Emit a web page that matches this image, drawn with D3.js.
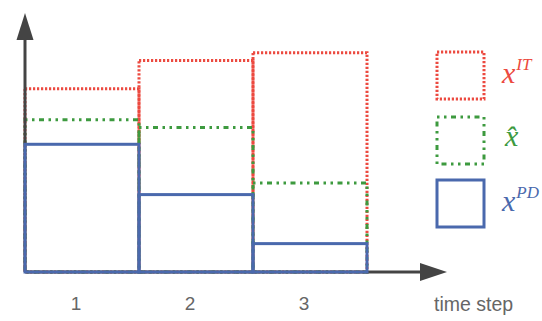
<!DOCTYPE html>
<html>
<head>
<meta charset="utf-8">
<script src="https://cdn.jsdelivr.net/npm/d3@7"></script>
<style>
  body { margin: 0; background: #fff; }
  svg { display: block; }
</style>
</head>
<body>
<script>
const width = 542
const height = 321

// time steps and the three series (arbitrary units, 0..10 on the y axis)
const steps = ['1', '2', '3']
const xIT = [7.1, 8.2, 8.5]
const xHat = [5.9, 5.6, 3.45]
const xPD = [4.95, 3.0, 1.1]

const seriesNames = ['IT', 'hat', 'PD']
const seriesColors = ['#ec4a40', '#3d9a3f', '#4a69ad']

const svg = d3.select('body').append('svg')
  .attr('width', width)
  .attr('height', height)

const x = d3.scaleBand()
  .domain(steps)
  .range([25, 367])
  .padding(0)

const y = d3.scaleLinear()
  .domain([0, 10])
  .range([272, 14])

const axisColor = '#444'
const redDash = '2.2,1.8'
const greenDash = '2.5,4.5,2.5,4.5,5,4.5'

function bars(values, color, dash, sw) {
  svg.append('g')
    .selectAll('rect')
    .data(values)
    .enter().append('rect')
    .attr('x', (d, i) => x(steps[i]))
    .attr('y', d => y(d))
    .attr('width', x.bandwidth())
    .attr('height', d => y(0) - y(d))
    .attr('fill', 'none')
    .attr('stroke', color)
    .attr('stroke-width', sw)
    .attr('stroke-dasharray', dash)
}

bars(xIT, seriesColors[0], redDash, 3)
bars(xHat, seriesColors[1], greenDash, 3)

// axes with arrow heads
svg.append('line')
  .attr('x1', 25).attr('y1', y(0))
  .attr('x2', 422).attr('y2', y(0))
  .attr('stroke', axisColor)
  .attr('stroke-width', 3)
svg.append('path')
  .attr('d', `M420,${y(0) - 9}L447,${y(0)}L420,${y(0) + 9}Z`)
  .attr('fill', axisColor)

svg.append('line')
  .attr('x1', 25).attr('y1', y(0))
  .attr('x2', 25).attr('y2', 38)
  .attr('stroke', axisColor)
  .attr('stroke-width', 3)
svg.append('path')
  .attr('d', 'M16.5,40L25,13L33.5,40Z')
  .attr('fill', axisColor)

bars(xPD, seriesColors[2], null, 3)

// tick labels
const xAxis = svg.append('g')
  .attr('transform', `translate(-6,${y(0)})`)
  .call(d3.axisBottom(x).tickSize(0).tickPadding(25))
xAxis.select('.domain').remove()
xAxis.selectAll('text')
  .attr('font-family', 'Liberation Sans, Arial, sans-serif')
  .attr('font-size', 19)
  .attr('fill', '#666')

svg.append('text')
  .attr('x', 434)
  .attr('y', 311)
  .attr('font-family', 'Liberation Sans, Arial, sans-serif')
  .attr('font-size', 19.5)
  .attr('fill', '#666')
  .text('time step')

// legend
const legendTop = [52, 117, 180]
const legendDash = [redDash, greenDash, null]
seriesNames.forEach((name, i) => {
  svg.append('rect')
    .attr('x', 437)
    .attr('y', legendTop[i])
    .attr('width', 47)
    .attr('height', 47)
    .attr('fill', 'none')
    .attr('stroke', seriesColors[i])
    .attr('stroke-width', 3)
    .attr('stroke-dasharray', legendDash[i])

  const t = svg.append('text')
    .attr('x', 502)
    .attr('y', legendTop[i] + 31)
    .attr('font-family', 'Liberation Serif, Times New Roman, serif')
    .attr('font-style', 'italic')
    .attr('font-size', 30)
    .attr('fill', seriesColors[i])
  if (name === 'hat') {
    t.attr('x', 505).attr('y', legendTop[i] + 29).text('x\u0302')
  } else {
    t.append('tspan').text('x')
    t.append('tspan')
      .attr('dx', 1)
      .attr('dy', -13)
      .attr('font-size', 17)
      .text(name)
  }
})
</script>
</body>
</html>
